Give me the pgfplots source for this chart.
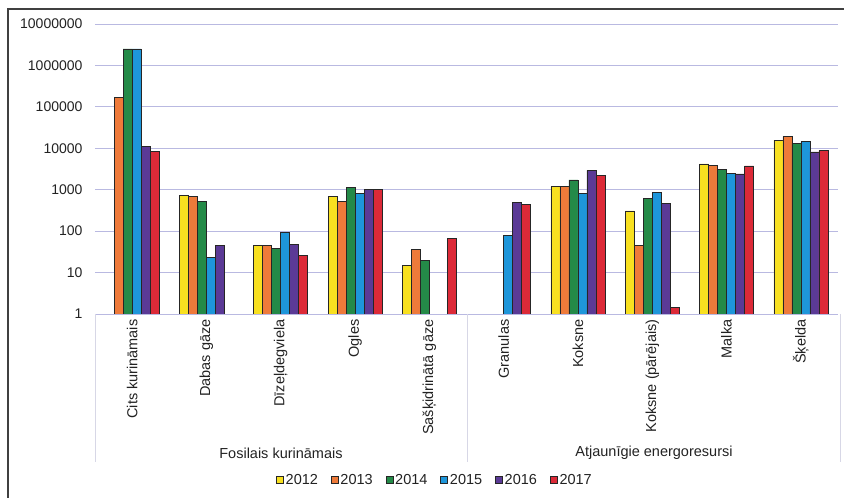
\documentclass[border=0pt]{standalone}
\usepackage{pgfplots}
\pgfplotsset{compat=1.18}
\usepackage{pgfplotstable}
\usepackage{fontspec}
\setmainfont{Liberation Sans}

\definecolor{c2012}{HTML}{F8E020}
\definecolor{c2013}{HTML}{EE7A3A}
\definecolor{c2014}{HTML}{248A48}
\definecolor{c2015}{HTML}{1E96DA}
\definecolor{c2016}{HTML}{5B3A96}
\definecolor{c2017}{HTML}{DC2A38}
\definecolor{gridc}{RGB}{185,185,225}
\definecolor{sepc}{RGB}{215,215,230}
\definecolor{txt}{HTML}{222222}

% energy use by fuel type, 2012-2017 (nan = no data)
\pgfplotstableread{
x  y2012  y2013   y2014    y2015    y2016  y2017
0  nan    170000  2500000  2500000  11200  8500
1  717    680     515      23       45     nan
2  46     46      39       94       48     26
3  680    525     1160     800      1000   1020
4  14.7   37      19.4     nan      nan    67
5  nan    nan     nan      78       490    445
6  1180   1180    1720     816      2940   2230
7  307    45.5    630      850      470    1.45
8  4200   3900    3100     2520     2400   3740
9  15800  19000   13200    14400    8200   8800
}\energy

\begin{document}
\begin{tikzpicture}[x=1pt,y=1pt]
\useasboundingbox (0,0) rectangle (844,498);
% outer frame
\draw[line width=1.5pt, color=black!75] (8,0) -- (8,489) -- (844,489);

\begin{axis}[
  at={(95pt,184pt)}, anchor=south west,
  scale only axis, width=743pt, height=290pt,
  ymode=log, ymin=1, ymax=1e7,
  log origin=infty,
  xmin=-0.5, xmax=9.5,
  ybar=0pt, bar width=9pt,
  axis line style={draw=none},
  major tick length=0pt, minor tick length=0pt,
  yminorticks=false,
  tick style={draw=none},
  ymajorgrids, grid style={color=gridc, line width=0.8pt},
  ytick={1,10,100,1000,10000,100000,1000000,10000000},
  yticklabels={1,10,100,1000,10000,100000,1000000,10000000},
  xtick={0,...,9},
  xticklabels={{Cits kurināmais},{Dabas gāze},{Dīzeļdegviela},{Ogles},{Sašķidrinātā gāze},{Granulas},{Koksne},{Koksne (pārējais)},{Malka},{Šķelda}},
  ticklabel style={font=\fontsize{14.5}{16}\selectfont, text=txt},
  /pgf/number format/assume math mode=true,
  yticklabel style={anchor=east, xshift=-9pt, font=\fontsize{14}{16}\selectfont},
  xticklabel style={rotate=90, anchor=east, xshift=-2pt},
  every axis plot/.append style={draw=black!85, line width=0.7pt},
  legend style={at={(0.4576,-0.572)}, anchor=center, draw=none, fill=none,
    font=\fontsize{14.5}{16}\selectfont, text=txt,
    /tikz/every even column/.append style={column sep=11pt}},
  legend columns=6,
  legend cell align=left,
  legend image code/.code={\draw[#1, line width=0.5pt] (0pt,-3.5pt) rectangle (7pt,3.5pt);},
]
\addplot[fill=c2012] table[x=x, y=y2012] {\energy};
\addplot[fill=c2013] table[x=x, y=y2013] {\energy};
\addplot[fill=c2014] table[x=x, y=y2014] {\energy};
\addplot[fill=c2015] table[x=x, y=y2015] {\energy};
\addplot[fill=c2016] table[x=x, y=y2016] {\energy};
\addplot[fill=c2017] table[x=x, y=y2017] {\energy};
\legend{2012,2013,2014,2015,2016,2017}
\end{axis}

% category group separators and group names
\draw[sepc, line width=0.8pt] (95,184) -- (95,36);
\draw[sepc, line width=0.8pt] (467,184) -- (467,36);
\draw[sepc, line width=0.8pt] (840,184) -- (840,36);
\node[font=\fontsize{14.5}{16}\selectfont, text=txt] at (281,45) {Fosilais kurināmais};
\node[font=\fontsize{14.5}{16}\selectfont, text=txt] at (654,45) {Atjaunīgie energoresursi};
\end{tikzpicture}
\end{document}
